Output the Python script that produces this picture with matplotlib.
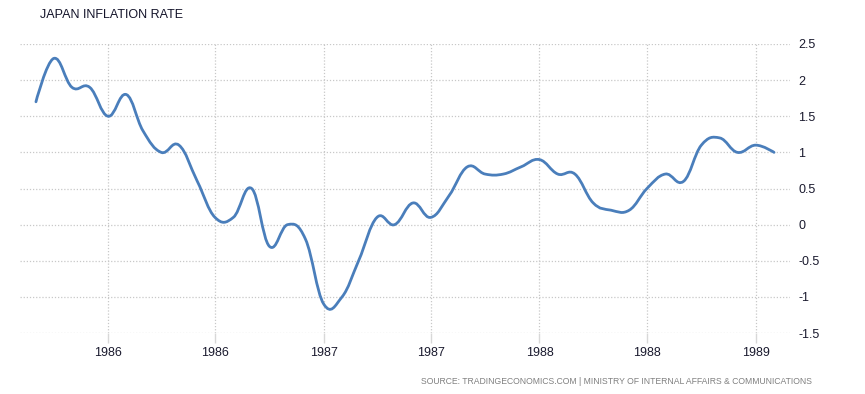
import matplotlib
matplotlib.use("Agg")
import matplotlib.pyplot as plt
import matplotlib.dates as mdates
from matplotlib.path import Path
from matplotlib.patches import PathPatch
import pandas as pd
import numpy as np

# monthly Japan inflation rate, Sep 1985 - Feb 1989
months = pd.date_range("1985-09-01", "1989-02-01", freq="MS")
rate = [1.7, 2.3, 1.9, 1.9, 1.5, 1.8, 1.3, 1.0, 1.1, 0.6,
        0.1, 0.1, 0.5, -0.3, 0.0, -0.2, -1.1, -1.0, -0.5, 0.1,
        0.0, 0.3, 0.1, 0.4, 0.8, 0.7, 0.7, 0.8, 0.9, 0.7,
        0.7, 0.3, 0.2, 0.2, 0.5, 0.7, 0.6, 1.1, 1.2, 1.0,
        1.1, 1.0]
yticks = [-1.5, -1, -0.5, 0, 0.5, 1, 1.5, 2, 2.5]
ytick_labels = ["-1.5", "-1", "-0.5", "0", "0.5", "1", "1.5", "2", "2.5"]
xtick_dates = pd.to_datetime(["1986-01-01", "1986-07-01", "1987-01-01", "1987-07-01",
                              "1988-01-01", "1988-07-01", "1989-01-01"])
xtick_labels = [str(d.year) for d in xtick_dates]

title = "JAPAN INFLATION RATE"
source = "SOURCE: TRADINGECONOMICS.COM | MINISTRY OF INTERNAL AFFAIRS & COMMUNICATIONS"

line_color = "#4a7ebb"
grid_color = "#c8c8c8"

x = mdates.date2num(months.to_pydatetime())
y = np.array(rate, dtype=float)


def spline_path(xs, ys, smoothing=1.5):
    # smooth bezier through every point (control points on the neighbour chord)
    n = len(xs)
    left = [(xs[i], ys[i]) for i in range(n)]
    right = [(xs[i], ys[i]) for i in range(n)]
    denom = smoothing + 1
    for i in range(1, n - 1):
        px, py = xs[i], ys[i]
        lx, ly = xs[i - 1], ys[i - 1]
        nx, ny = xs[i + 1], ys[i + 1]
        lcx = (smoothing * px + lx) / denom
        lcy = (smoothing * py + ly) / denom
        rcx = (smoothing * px + nx) / denom
        rcy = (smoothing * py + ny) / denom
        corr = ((rcy - lcy) * (rcx - px)) / (rcx - lcx) + py - rcy
        left[i] = (lcx, lcy + corr)
        right[i] = (rcx, rcy + corr)
    verts = [(xs[0], ys[0])]
    codes = [Path.MOVETO]
    for i in range(n - 1):
        verts += [right[i], left[i + 1], (xs[i + 1], ys[i + 1])]
        codes += [Path.CURVE4] * 3
    return Path(verts, codes)


fig = plt.figure(figsize=(8.65, 3.94), dpi=100)
ax = fig.add_axes([20 / 865, 1 - 333 / 394, 770 / 865, 289 / 394])

patch = PathPatch(spline_path(x, y), facecolor="none", edgecolor=line_color,
                  linewidth=2.0, capstyle="round", joinstyle="round")
ax.add_patch(patch)

ax.set_xlim(x[0] - 27, x[-1] + 27)
ax.set_ylim(-1.5, 2.5)

ax.set_yticks(yticks)
ax.set_yticklabels(ytick_labels)
ax.set_xticks(mdates.date2num(xtick_dates.to_pydatetime()))
ax.set_xticklabels(xtick_labels)

ax.yaxis.tick_right()
ax.tick_params(axis="y", length=0, pad=6, labelsize=9, labelcolor="#1a1a2e")
ax.tick_params(axis="x", length=7, width=1, color="#d8d8d8", pad=3,
               labelsize=9, labelcolor="#1a1a2e")
for lab in ax.get_xticklabels() + ax.get_yticklabels():
    lab.set_family("Liberation Sans")

ax.grid(True, linestyle=(0, (1, 1.5)), color=grid_color, linewidth=0.9)
ax.set_axisbelow(True)
for s in ax.spines.values():
    s.set_visible(False)

fig.text(40 / 865, 1 - 15 / 394, title, fontsize=9, color="#14142a",
         family="Liberation Sans", va="center", ha="left")
fig.text(812 / 865, 1 - 382 / 394, source, fontsize=6.2, color="#808080",
         family="Liberation Sans", va="center", ha="right")

fig.savefig("out.png", dpi=100)
